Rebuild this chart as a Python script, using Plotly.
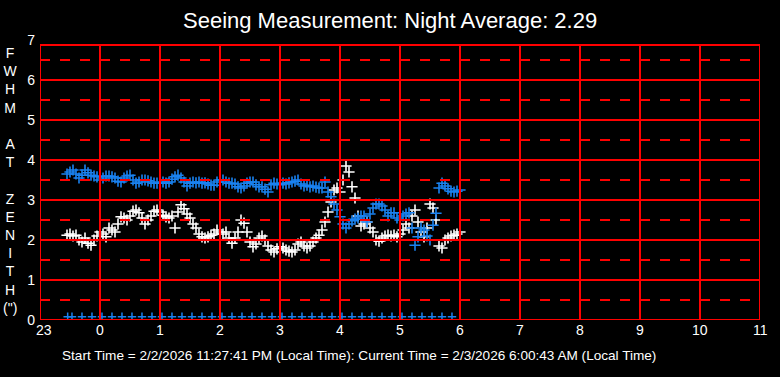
import numpy as np
import plotly.graph_objects as go

# ---------------- data ----------------
title_text = "Seeing Measurement: Night Average: 2.29"
footer_text = "Start Time = 2/2/2026 11:27:41 PM (Local Time): Current Time = 2/3/2026 6:00:43 AM (Local Time)"
ylabel_letters = ["F", "W", "H", "M", "", "A", "T", "", "Z", "E", "N", "I", "T", "H", "(\")"]

x_tick_vals = list(range(-1, 12))
x_tick_text = ["23", "0", "1", "2", "3", "4", "5", "6", "7", "8", "9", "10", "11"]
y_tick_vals = list(range(0, 8))

# sample times: hours after midnight (negative = before midnight), every 3 minutes
t_start = -0.55
t_step = 0.05

white_fwhm = [
    2.12, 2.15, 2.10, 2.12, 2.00, 1.95, 2.05, 1.92, 1.87, 2.00, 2.10,
    2.20, 2.15, 2.08, 2.30, 2.25, 2.20, 2.40, 2.58, 2.55, 2.50,
    2.60, 2.72, 2.75, 2.68, 2.55, 2.40, 2.50, 2.60, 2.72, 2.75,
    2.70, 2.62, 2.58, 2.55, 2.60, 2.30, 2.70, 2.88, 2.78, 2.65,
    2.55, 2.40, 2.30, 2.15, 2.08, 2.05, 2.08, 2.12, 2.15, 2.25,
    2.20, 2.15, 2.20, 2.05, 1.92, 2.05, 2.20, 2.50, 2.42, 2.20,
    1.95, 1.83, 1.90, 2.05, 2.10, 2.00, 1.85, 1.75, 1.70, 1.78,
    1.83, 1.80, 1.75, 1.72, 1.70, 1.75, 1.90, 1.95, 1.85, 1.80,
    1.85, 1.95, 2.05, 2.12, 2.25, 2.45, 2.70, 2.95, 3.25, 3.30,
    3.20, 3.50, 3.85, 3.70, 3.33, 3.05, 2.60, 2.35, 2.40, 2.45,
    2.30, 2.20, 2.00, 1.97, 2.05, 2.10, 2.12, 2.10, 2.12, 2.08,
    2.15, 2.25, 2.40, 2.30, 2.60, 2.75, 2.45, 2.20, 2.08, 2.30,
    2.90, 2.80, 2.50, 1.85, 1.80, 2.00, 2.05, 2.10, 2.12, 2.15,
    2.20,
]

blue_fwhm = [
    3.65, 3.70, 3.75, 3.65, 3.55, 3.62, 3.75, 3.68, 3.62, 3.60, 3.58,
    3.50, 3.55, 3.60, 3.60, 3.58, 3.55, 3.47, 3.45, 3.55, 3.60,
    3.62, 3.50, 3.42, 3.45, 3.50, 3.50, 3.48, 3.45, 3.42, 3.42,
    3.42, 3.45, 3.42, 3.45, 3.52, 3.58, 3.62, 3.55, 3.45, 3.35,
    3.42, 3.45, 3.43, 3.45, 3.42, 3.43, 3.40, 3.37, 3.37, 3.45,
    3.50, 3.50, 3.45, 3.42, 3.42, 3.40, 3.33, 3.30, 3.35, 3.42,
    3.45, 3.45, 3.38, 3.33, 3.33, 3.27, 3.20, 3.38, 3.42, 3.40,
    3.38, 3.42, 3.40, 3.43, 3.45, 3.47, 3.50, 3.40, 3.35, 3.37,
    3.33, 3.35, 3.32, 3.30, 3.30, 3.45, 3.20, 3.08, 2.90, 2.75,
    2.58, 2.40, 2.30, 2.40, 2.48, 2.52, 2.55, 2.60, 2.60, 2.45,
    2.65, 2.80, 2.90, 2.90, 2.85, 2.75, 2.60, 2.68, 2.68, 2.55,
    2.50, 2.60, 2.65, 2.68, 2.30, 1.87, 2.08, 2.30, 2.25, 2.10,
    2.00, 2.37, 2.67, 3.30, 3.42, 3.35, 3.28, 3.22, 3.20, 3.22,
    3.25,
]

# measurement-cycle markers along the bottom (hours)
cycle_first = -0.539
cycle_start = -0.467
cycle_step_min = 10
cycle_count = 39
cycle_level = 0.08

# ---------------- figure ----------------
t_white = t_start + t_step * np.arange(len(white_fwhm))
t_blue = t_start + t_step * np.arange(len(blue_fwhm))
t_cycle = np.concatenate([[cycle_first], cycle_start + np.arange(cycle_count) * cycle_step_min / 60.0])

FONT = "Liberation Sans, Arial, sans-serif"
RED = "#ff0000"
BLUE = "#1a82f0"

fig = go.Figure()
fig.add_trace(go.Scatter(
    x=t_white, y=white_fwhm, mode="markers",
    marker=dict(symbol="cross-thin", size=8, line=dict(color="white", width=1.6)),
    showlegend=False, hoverinfo="skip"))
fig.add_trace(go.Scatter(
    x=t_blue, y=blue_fwhm, mode="markers",
    marker=dict(symbol="cross-thin", size=8, line=dict(color=BLUE, width=1.6)),
    showlegend=False, hoverinfo="skip"))
fig.add_trace(go.Scatter(
    x=t_cycle, y=[cycle_level] * len(t_cycle), mode="markers",
    marker=dict(symbol="cross-thin", size=6, line=dict(color=BLUE, width=1.5)),
    showlegend=False, hoverinfo="skip"))

# grid drawn above data, as in the original
top = 6.875
shapes = []
for yv in range(1, 7):
    shapes.append(dict(type="line", xref="x", yref="y", x0=-1, x1=11, y0=yv, y1=yv,
                       line=dict(color=RED, width=2), layer="above"))
for k in range(7):
    yv = k + 0.5
    shapes.append(dict(type="line", xref="x", yref="y", x0=-1, x1=11, y0=yv, y1=yv,
                       line=dict(color=RED, width=2, dash="10px,10px"), layer="above"))
for xv in range(0, 11):
    shapes.append(dict(type="line", xref="x", yref="y", x0=xv, x1=xv, y0=0, y1=top,
                       line=dict(color=RED, width=2), layer="above"))
shapes.append(dict(type="rect", xref="x", yref="y", x0=-1, x1=11, y0=0, y1=top,
                   line=dict(color=RED, width=2), layer="above"))

annotations = [
    dict(text=title_text, xref="paper", yref="paper", x=0.486, y=1.0714,
         xanchor="center", yanchor="middle", showarrow=False,
         font=dict(family=FONT, size=22, color="white")),
    dict(text="<br>".join(ylabel_letters), xref="paper", yref="paper",
         x=-29 / 720, y=0.5, xanchor="center", yanchor="middle", showarrow=False,
         font=dict(family=FONT, size=14, color="white"), align="center"),
    dict(text=footer_text, xref="paper", yref="paper", x=0.4424, y=-0.125,
         xanchor="center", yanchor="middle", showarrow=False,
         font=dict(family=FONT, size=13.6, color="white")),
]
# x tick labels (the first one sits nudged inside the frame, as in the original)
for xv, lab in zip(x_tick_vals, x_tick_text):
    annotations.append(dict(text=lab, xref="x", yref="paper", x=xv, y=0,
                            xshift=4 if xv == -1 else 0, yshift=-10,
                            xanchor="center", yanchor="middle", showarrow=False,
                            font=dict(family=FONT, size=14, color="white")))

fig.update_layout(
    width=780, height=377,
    margin=dict(l=40, r=20, t=40, b=57),
    paper_bgcolor="black", plot_bgcolor="black",
    hovermode=False,
    shapes=shapes, annotations=annotations,
    xaxis=dict(range=[-1, 11], showticklabels=False, showgrid=False, zeroline=False,
               showline=False, automargin=False),
    yaxis=dict(range=[0, 7], tickvals=y_tick_vals, showgrid=False, zeroline=False,
               showline=False, automargin=False, ticklabelstandoff=4,
               tickfont=dict(family=FONT, size=14, color="white")),
)

# remove the browser's default 8 px page margin so the figure fills the window
fig.write_html("out.html", config={"displayModeBar": False},
               post_script="document.body.style.margin='0';")
